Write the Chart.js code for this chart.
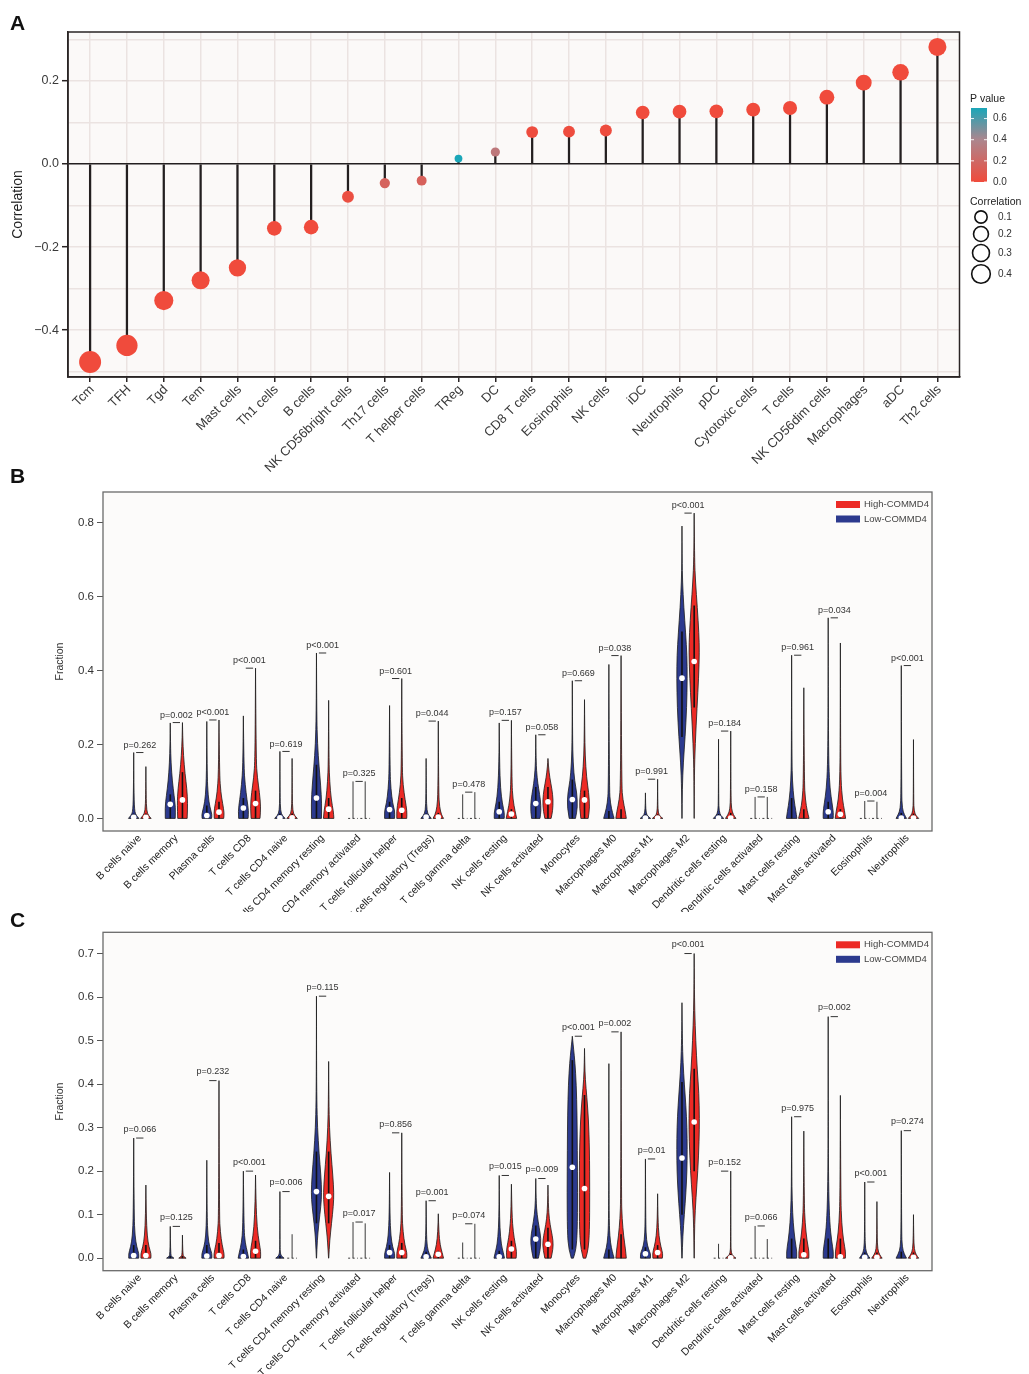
<!DOCTYPE html>
<html>
<head>
<meta charset="utf-8">
<script src="https://cdn.jsdelivr.net/npm/chart.js@4.4.1/dist/chart.umd.min.js"></script>
<style>
  body { margin: 0; background: #fff; width: 1029px; height: 1374px; position: relative; overflow: hidden; }
  canvas { position: absolute; left: 0; }
  .tag { position: absolute; left: 10px; font: bold 21px "Liberation Sans", Arial, sans-serif; line-height: 21px; color: #111; z-index: 2; }
</style>
</head>
<body>
<div class="tag" style="top:12px">A</div>
<div class="tag" style="top:465px">B</div>
<div class="tag" style="top:909px">C</div>
<canvas id="chartA" width="1029" height="472" style="top:0"></canvas>
<canvas id="chartB" width="1029" height="442" style="top:470px"></canvas>
<canvas id="chartC" width="1029" height="462" style="top:912px"></canvas>
<script>
// ---- Panel A: lollipop of correlations ----
const cellsA = ['Tcm', 'TFH', 'Tgd', 'Tem', 'Mast cells', 'Th1 cells', 'B cells', 'NK CD56bright cells',
  'Th17 cells', 'T helper cells', 'TReg', 'DC', 'CD8 T cells', 'Eosinophils', 'NK cells', 'iDC',
  'Neutrophils', 'pDC', 'Cytotoxic cells', 'T cells', 'NK CD56dim cells', 'Macrophages', 'aDC', 'Th2 cells'];
const corrA = [-0.477, -0.437, -0.329, -0.280, -0.250, -0.155, -0.152, -0.079, -0.046, -0.040, 0.013, 0.029,
  0.077, 0.078, 0.081, 0.124, 0.126, 0.127, 0.131, 0.135, 0.161, 0.196, 0.221, 0.282];
const pvalA = [0, 0, 0, 0, 0, 0.001, 0.001, 0.03, 0.16, 0.15, 0.7, 0.3,
  0.01, 0.01, 0.01, 0, 0, 0, 0, 0, 0, 0, 0, 0];
const corrTicks = [-0.5, -0.4, -0.3, -0.2, -0.1, 0, 0.1, 0.2, 0.3];
const corrLabelTicks = [-0.4, -0.2, 0, 0.2];
const pLegendTicks = [0, 0.2, 0.4, 0.6];
const sizeLegendTicks = [0.1, 0.2, 0.3, 0.4];

// ---- Panels B and C: violins, low (blue) vs high (red) COMMD4 ----
const cellsBC = ['B cells naive', 'B cells memory', 'Plasma cells', 'T cells CD8', 'T cells CD4 naive',
  'T cells CD4 memory resting', 'T cells CD4 memory activated', 'T cells follicular helper',
  'T cells regulatory (Tregs)', 'T cells gamma delta', 'NK cells resting', 'NK cells activated', 'Monocytes',
  'Macrophages M0', 'Macrophages M1', 'Macrophages M2', 'Dendritic cells resting', 'Dendritic cells activated',
  'Mast cells resting', 'Mast cells activated', 'Eosinophils', 'Neutrophils'];

const fracTicksB = [0, 0.2, 0.4, 0.6, 0.8];
const pLabelB = ['p=0.262', 'p=0.002', 'p<0.001', 'p<0.001', 'p=0.619', 'p<0.001', 'p=0.325', 'p=0.601', 'p=0.044',
  'p=0.478', 'p=0.157', 'p=0.058', 'p=0.669', 'p=0.038', 'p=0.991', 'p<0.001', 'p=0.184', 'p=0.158', 'p=0.961',
  'p=0.034', 'p=0.004', 'p<0.001'];
const lowMaxB = [0.178, 0.258, 0.262, 0.277, 0.181, 0.447, 0.100, 0.305, 0.162, 0.065, 0.258, 0.226,
  0.372, 0.416, 0.069, 0.790, 0.214, 0.058, 0.441, 0.542, 0.047, 0.413];
const highMaxB = [0.140, 0.259, 0.266, 0.406, 0.162, 0.319, 0.100, 0.378, 0.263, 0.071, 0.265, 0.162,
  0.321, 0.440, 0.106, 0.825, 0.236, 0.058, 0.353, 0.474, 0.045, 0.213];
const lowMedB = [0.003, 0.038, 0.008, 0.028, 0.002, 0.055, null, 0.024, 0.004, null, 0.018, 0.040,
  0.051, null, 0.001, 0.379, 0.001, null, null, 0.018, null, 0.001];
const highMedB = [0.003, 0.050, 0.017, 0.040, 0.002, 0.025, null, 0.022, 0.004, null, 0.012, 0.045,
  0.050, null, 0.001, 0.424, 0.001, null, null, 0.011, null, 0.001];
// shape knots: [value, relative half-width]; the outline closes to width 0 at the max
const lowShapeB = [
  [[0, 1], [0.008, 0.5], [0.02, 0.15], [0.08, 0.04]],
  [[0, 0.95], [0.03, 1], [0.06, 0.75], [0.1, 0.4], [0.15, 0.15], [0.2, 0.05]],
  [[0, 0.9], [0.01, 1], [0.03, 0.6], [0.06, 0.25], [0.12, 0.06]],
  [[0, 0.9], [0.02, 1], [0.05, 0.7], [0.09, 0.35], [0.14, 0.1]],
  [[0, 1], [0.008, 0.45], [0.02, 0.12], [0.06, 0.03]],
  [[0, 0.95], [0.04, 1], [0.09, 0.8], [0.14, 0.5], [0.2, 0.2], [0.28, 0.05]],
  [],
  [[0, 0.95], [0.02, 1], [0.04, 0.6], [0.08, 0.25], [0.13, 0.08]],
  [[0, 1], [0.008, 0.5], [0.02, 0.15], [0.06, 0.04]],
  [],
  [[0, 0.95], [0.015, 1], [0.04, 0.6], [0.08, 0.25], [0.15, 0.06]],
  [[0, 0.8], [0.02, 1], [0.05, 0.9], [0.08, 0.55], [0.11, 0.25], [0.15, 0.06]],
  [[0, 0.6], [0.03, 1], [0.07, 0.85], [0.1, 0.45], [0.15, 0.15], [0.22, 0.04]],
  [[0, 1], [0.015, 0.7], [0.04, 0.3], [0.08, 0.08]],
  [[0, 1], [0.006, 0.45], [0.015, 0.12], [0.04, 0.03]],
  [[0, 0.02], [0.08, 0.06], [0.15, 0.25], [0.22, 0.6], [0.3, 0.9], [0.38, 1], [0.44, 0.95], [0.5, 0.7], [0.57, 0.35], [0.64, 0.1], [0.7, 0.03]],
  [[0, 1], [0.007, 0.45], [0.02, 0.1], [0.05, 0.03]],
  [],
  [[0, 1], [0.02, 0.8], [0.05, 0.45], [0.1, 0.15], [0.16, 0.05]],
  [[0, 0.95], [0.015, 1], [0.04, 0.75], [0.08, 0.35], [0.14, 0.12], [0.25, 0.04]],
  [],
  [[0, 1], [0.01, 0.6], [0.025, 0.2], [0.07, 0.05]]
];
const highShapeB = [
  [[0, 1], [0.008, 0.5], [0.02, 0.15], [0.06, 0.04]],
  [[0, 0.9], [0.04, 1], [0.08, 0.85], [0.12, 0.5], [0.17, 0.2], [0.22, 0.05]],
  [[0, 0.9], [0.015, 1], [0.04, 0.7], [0.07, 0.35], [0.12, 0.1]],
  [[0, 0.85], [0.03, 1], [0.07, 0.75], [0.11, 0.35], [0.16, 0.1]],
  [[0, 1], [0.008, 0.45], [0.02, 0.12], [0.06, 0.03]],
  [[0, 1], [0.02, 0.9], [0.05, 0.5], [0.1, 0.2], [0.15, 0.06]],
  [],
  [[0, 0.95], [0.02, 1], [0.05, 0.65], [0.09, 0.25], [0.14, 0.08]],
  [[0, 1], [0.01, 0.6], [0.03, 0.25], [0.07, 0.06]],
  [],
  [[0, 1], [0.02, 0.7], [0.05, 0.3], [0.1, 0.08]],
  [[0, 0.6], [0.02, 0.9], [0.05, 1], [0.08, 0.75], [0.11, 0.35], [0.14, 0.1]],
  [[0, 0.7], [0.03, 1], [0.07, 0.8], [0.11, 0.4], [0.17, 0.12], [0.24, 0.04]],
  [[0, 1], [0.02, 0.8], [0.05, 0.35], [0.09, 0.1]],
  [[0, 1], [0.006, 0.45], [0.015, 0.12], [0.04, 0.03]],
  [[0, 0.01], [0.12, 0.04], [0.2, 0.2], [0.3, 0.55], [0.38, 0.85], [0.45, 1], [0.5, 0.9], [0.57, 0.6], [0.64, 0.25], [0.7, 0.07]],
  [[0, 1], [0.01, 0.5], [0.025, 0.15], [0.06, 0.04]],
  [],
  [[0, 1], [0.02, 0.65], [0.05, 0.3], [0.1, 0.08]],
  [[0, 1], [0.02, 0.8], [0.05, 0.4], [0.1, 0.12], [0.2, 0.04]],
  [],
  [[0, 1], [0.008, 0.45], [0.02, 0.12], [0.05, 0.03]]
];

const fracTicksC = [0, 0.1, 0.2, 0.3, 0.4, 0.5, 0.6, 0.7];
const pLabelC = ['p=0.066', 'p=0.125', 'p=0.232', 'p<0.001', 'p=0.006', 'p=0.115', 'p=0.017', 'p=0.856', 'p=0.001',
  'p=0.074', 'p=0.015', 'p=0.009', 'p<0.001', 'p=0.002', 'p=0.01', 'p<0.001', 'p=0.152', 'p=0.066', 'p=0.975',
  'p=0.002', 'p<0.001', 'p=0.274'];
const lowMaxC = [0.276, 0.073, 0.225, 0.200, 0.153, 0.602, 0.083, 0.197, 0.132, 0.036, 0.190, 0.183,
  0.510, 0.447, 0.228, 0.587, 0.033, 0.074, 0.325, 0.555, 0.175, 0.293];
const highMaxC = [0.168, 0.053, 0.408, 0.191, 0.055, 0.452, 0.080, 0.288, 0.102, 0.079, 0.170, 0.168,
  0.482, 0.520, 0.148, 0.700, 0.200, 0.044, 0.292, 0.374, 0.130, 0.100];
const lowMedC = [0.006, null, 0.005, 0.004, null, 0.153, null, 0.013, 0.003, null, 0.003, 0.044,
  0.209, null, 0.010, 0.230, null, null, null, null, 0.002, null];
const highMedC = [0.006, null, 0.006, 0.016, null, 0.142, null, 0.013, 0.009, null, 0.021, 0.032,
  0.160, null, 0.013, 0.313, 0.001, null, 0.008, 0.003, 0.002, 0.002];
const lowShapeC = [
  [[0, 0.95], [0.01, 1], [0.025, 0.6], [0.05, 0.25], [0.1, 0.07]],
  [[0, 0.7], [0.003, 0.3], [0.008, 0.05]],
  [[0, 0.95], [0.01, 1], [0.025, 0.55], [0.05, 0.2], [0.1, 0.05]],
  [[0, 1], [0.015, 0.75], [0.035, 0.35], [0.07, 0.1]],
  [[0, 0.8], [0.004, 0.35], [0.01, 0.08], [0.03, 0.02]],
  [[0, 0.02], [0.04, 0.15], [0.08, 0.45], [0.12, 0.85], [0.15, 1], [0.19, 0.85], [0.24, 0.5], [0.3, 0.2], [0.36, 0.07], [0.45, 0.02]],
  [],
  [[0, 0.95], [0.01, 1], [0.025, 0.6], [0.05, 0.25], [0.1, 0.06]],
  [[0, 1], [0.01, 0.6], [0.025, 0.2], [0.06, 0.05]],
  [],
  [[0, 1], [0.012, 0.8], [0.03, 0.4], [0.07, 0.12], [0.12, 0.04]],
  [[0, 0.5], [0.02, 0.85], [0.045, 1], [0.07, 0.65], [0.1, 0.25], [0.13, 0.07]],
  [[0, 0.2], [0.02, 0.7], [0.06, 0.95], [0.15, 1], [0.25, 0.95], [0.33, 0.9], [0.4, 0.75], [0.45, 0.5], [0.48, 0.25], [0.5, 0.08]],
  [[0, 1], [0.015, 0.65], [0.035, 0.3], [0.07, 0.08], [0.15, 0.03]],
  [[0, 0.95], [0.01, 1], [0.02, 0.6], [0.04, 0.2], [0.08, 0.05]],
  [[0, 0.03], [0.05, 0.15], [0.1, 0.45], [0.15, 0.75], [0.2, 0.95], [0.25, 1], [0.3, 0.95], [0.35, 0.75], [0.4, 0.45], [0.45, 0.2], [0.5, 0.07]],
  [],
  [],
  [[0, 0.95], [0.015, 1], [0.04, 0.65], [0.08, 0.3], [0.13, 0.1], [0.2, 0.03]],
  [[0, 0.95], [0.015, 1], [0.04, 0.65], [0.08, 0.3], [0.15, 0.1], [0.25, 0.03]],
  [[0, 1], [0.008, 0.5], [0.02, 0.15], [0.05, 0.04]],
  [[0, 1], [0.01, 0.55], [0.025, 0.18], [0.06, 0.05]]
];
const highShapeC = [
  [[0, 0.95], [0.01, 1], [0.025, 0.6], [0.05, 0.25], [0.1, 0.07]],
  [[0, 0.7], [0.003, 0.3], [0.008, 0.05]],
  [[0, 0.95], [0.01, 1], [0.03, 0.6], [0.06, 0.25], [0.1, 0.07]],
  [[0, 0.95], [0.015, 1], [0.035, 0.7], [0.07, 0.3], [0.13, 0.08]],
  [],
  [[0, 0.02], [0.04, 0.2], [0.08, 0.55], [0.12, 0.9], [0.15, 1], [0.19, 0.8], [0.24, 0.45], [0.3, 0.15], [0.36, 0.05]],
  [],
  [[0, 0.95], [0.012, 1], [0.03, 0.6], [0.06, 0.25], [0.1, 0.06]],
  [[0, 1], [0.012, 0.75], [0.03, 0.35], [0.06, 0.1]],
  [],
  [[0, 0.9], [0.015, 1], [0.035, 0.7], [0.06, 0.35], [0.1, 0.1]],
  [[0, 0.6], [0.02, 0.95], [0.04, 1], [0.065, 0.6], [0.09, 0.25], [0.12, 0.08]],
  [[0, 0.25], [0.02, 0.7], [0.06, 0.95], [0.15, 1], [0.25, 0.95], [0.32, 0.75], [0.37, 0.45], [0.41, 0.15], [0.45, 0.04]],
  [[0, 1], [0.02, 0.85], [0.05, 0.5], [0.09, 0.2], [0.14, 0.06]],
  [[0, 0.9], [0.01, 1], [0.025, 0.65], [0.05, 0.25], [0.09, 0.06]],
  [[0, 0.02], [0.08, 0.08], [0.14, 0.35], [0.2, 0.7], [0.27, 0.95], [0.32, 1], [0.38, 0.9], [0.43, 0.6], [0.5, 0.3], [0.57, 0.1], [0.63, 0.04]],
  [[0, 1], [0.005, 0.45], [0.012, 0.1], [0.03, 0.03]],
  [],
  [[0, 0.95], [0.015, 1], [0.04, 0.6], [0.08, 0.25], [0.13, 0.07]],
  [[0, 0.95], [0.015, 1], [0.04, 0.6], [0.08, 0.25], [0.14, 0.07]],
  [[0, 1], [0.008, 0.5], [0.02, 0.15], [0.05, 0.04]],
  [[0, 1], [0.008, 0.5], [0.02, 0.15], [0.05, 0.04]]
];

Chart.defaults.font.family = '"Liberation Sans", Arial, sans-serif';

const LOW_COL = '#2c3a8e';
const HIGH_COL = '#ec2a25';

// point size from |correlation| (area-like scale)
const sizeOf = v => 2.5 + 12.3 * Math.sqrt(Math.abs(v));

function pColor(p) {
    const stops = [[0, [240, 75, 60]], [0.4, [172, 134, 142]], [0.7, [26, 166, 184]]];
    for (let k = 1; k < stops.length; k++) {
        if (p <= stops[k][0]) {
            const [p0, c0] = stops[k - 1], [p1, c1] = stops[k];
            const t = (p - p0) / (p1 - p0);
            const c = c0.map((v, j) => Math.round(v + (c1[j] - v) * t));
            return `rgb(${c[0]},${c[1]},${c[2]})`;
        }
    }
    return 'rgb(26,166,184)';
}

const fmtSigned = v => (v < 0 ? '\u2212' : '') + Math.abs(v).toFixed(1);

// Panel A extras: background, box and the two legends
const panelA = {
    id: 'panelA',
    beforeDraw(chart) {
        const { ctx, chartArea: a } = chart;
        ctx.save();
        ctx.fillStyle = '#fbf9f8';
        ctx.fillRect(a.left, a.top, a.right - a.left, a.bottom - a.top);
        ctx.restore();
    },
    afterDraw(chart) {
        const { ctx, chartArea: a } = chart;
        ctx.save();
        ctx.strokeStyle = '#2a2424';
        ctx.lineWidth = 1.5;
        ctx.strokeRect(a.left, a.top, a.right - a.left, a.bottom - a.top);

        // P value colour bar
        const barL = 971, barW = 16, barTop = 108, barBot = 182, pMax = 0.7;
        ctx.fillStyle = '#222';
        ctx.font = '10.5px "Liberation Sans", Arial';
        ctx.textBaseline = 'middle';
        ctx.textAlign = 'left';
        ctx.fillText('P value', 970, 99);
        const g = ctx.createLinearGradient(0, barBot, 0, barTop);
        g.addColorStop(0, pColor(0));
        g.addColorStop(0.4 / pMax, pColor(0.4));
        g.addColorStop(1, pColor(0.7));
        ctx.fillStyle = g;
        ctx.fillRect(barL, barTop, barW, barBot - barTop);
        ctx.font = '10px "Liberation Sans", Arial';
        pLegendTicks.forEach(p => {
            const y = barBot - p / pMax * (barBot - barTop);
            ctx.strokeStyle = 'rgba(255,255,255,0.9)';
            ctx.lineWidth = 1;
            ctx.beginPath();
            ctx.moveTo(barL, y); ctx.lineTo(barL + 3, y);
            ctx.moveTo(barL + barW - 3, y); ctx.lineTo(barL + barW, y);
            ctx.stroke();
            ctx.fillStyle = '#333';
            ctx.fillText(p.toFixed(1), 993, y);
        });

        // Correlation size legend
        ctx.fillStyle = '#222';
        ctx.font = '10.5px "Liberation Sans", Arial';
        ctx.fillText('Correlation', 970, 202);
        const ys = [217, 234, 253, 274];
        ctx.font = '10px "Liberation Sans", Arial';
        sizeLegendTicks.forEach((v, k) => {
            ctx.beginPath();
            ctx.arc(981, ys[k], 3 + 10 * Math.sqrt(v), 0, Math.PI * 2);
            ctx.strokeStyle = '#111';
            ctx.lineWidth = 1.6;
            ctx.stroke();
            ctx.fillStyle = '#333';
            ctx.fillText(v.toFixed(1), 998, ys[k]);
        });
        ctx.restore();
    }
};

new Chart(document.getElementById('chartA'), {
    type: 'scatter',
    data: {
        datasets: [
            {
                type: 'bar',
                data: corrA.map((v, i) => ({ x: i, y: v })),
                backgroundColor: '#231f20',
                barThickness: 1.6,
                order: 2
            },
            {
                type: 'scatter',
                data: corrA.map((v, i) => ({ x: i, y: v })),
                pointRadius: corrA.map(sizeOf),
                pointBackgroundColor: pvalA.map(pColor),
                pointBorderWidth: 0,
                clip: false,
                order: 1
            }
        ]
    },
    options: {
        responsive: false,
        animation: false,
        events: [],
        layout: { padding: { left: 8, top: 32, right: 69.5, bottom: 0 } },
        plugins: { legend: { display: false }, tooltip: { enabled: false } },
        scales: {
            x: {
                type: 'linear', min: -0.6, max: 23.6, offset: false,
                afterBuildTicks: s => { s.ticks = cellsA.map((c, i) => ({ value: i })); },
                afterFit: s => { s.height = 95; },
                ticks: {
                    autoSkip: false, maxRotation: 45, minRotation: 45, padding: 0, labelOffset: 2,
                    callback: v => cellsA[v], color: '#3a3a3a', font: { size: 13 }
                },
                grid: { offset: false, color: '#ebe3e1', lineWidth: 1.5, tickLength: 5, tickColor: '#2a2424', tickWidth: 1.5 },
                border: { display: true, color: '#2a2424', width: 1.5 }
            },
            y: {
                min: -0.513, max: 0.318,
                afterBuildTicks: s => { s.ticks = corrTicks.map(v => ({ value: v })); },
                afterFit: s => { s.width = 60; },
                ticks: {
                    padding: 3, color: '#3a3a3a', font: { size: 12.5 },
                    callback: v => corrLabelTicks.includes(v) ? fmtSigned(v) : ''
                },
                grid: {
                    color: c => (c.tick && c.tick.value === 0) ? '#231f20' : '#ebe3e1',
                    lineWidth: c => (c.tick && c.tick.value === 0) ? 1.5 : 1.4,
                    tickLength: 6,
                    tickColor: c => (c.tick && corrLabelTicks.includes(c.tick.value)) ? '#2a2424' : 'rgba(0,0,0,0)',
                    tickWidth: 1.5
                },
                border: { color: '#2a2424', width: 1.5 },
                title: { display: true, text: 'Correlation', color: '#222', font: { size: 14 }, padding: { top: 2, bottom: 0 } }
            }
        }
    },
    plugins: [panelA]
});

// ---- violin panels ----
const HALF_W = 0.43;

function smoothSide(ctx, pts) {
    ctx.lineTo(pts[0][0], pts[0][1]);
    for (let k = 1; k < pts.length - 1; k++) {
        const mx = (pts[k][0] + pts[k + 1][0]) / 2, my = (pts[k][1] + pts[k + 1][1]) / 2;
        ctx.quadraticCurveTo(pts[k][0], pts[k][1], mx, my);
    }
    const last = pts[pts.length - 1];
    ctx.lineTo(last[0], last[1]);
}

function drawViolin(ctx, xs, ys, xc, shape, max, color) {
    const px = xs.getPixelForValue(xc);
    if (!shape.length) {
        // near-constant group: bare line and dotted base
        ctx.strokeStyle = '#3a3a3a';
        ctx.lineWidth = 1;
        ctx.beginPath();
        ctx.moveTo(px, ys.getPixelForValue(0));
        ctx.lineTo(px, ys.getPixelForValue(max));
        ctx.stroke();
        ctx.setLineDash([2, 2.5]);
        ctx.beginPath();
        ctx.moveTo(xs.getPixelForValue(xc - 0.4), ys.getPixelForValue(0));
        ctx.lineTo(xs.getPixelForValue(xc + 0.4), ys.getPixelForValue(0));
        ctx.stroke();
        ctx.setLineDash([]);
        return;
    }
    const knots = shape.concat([[max, 0]]);
    const left = knots.map(([v, w]) => [xs.getPixelForValue(xc - w * HALF_W), ys.getPixelForValue(v)]);
    const right = knots.slice().reverse().map(([v, w]) => [xs.getPixelForValue(xc + w * HALF_W), ys.getPixelForValue(v)]);
    ctx.beginPath();
    ctx.moveTo(left[0][0], left[0][1]);
    smoothSide(ctx, left);
    smoothSide(ctx, right);
    ctx.closePath();
    ctx.fillStyle = color;
    ctx.fill();
    ctx.strokeStyle = '#1c1c1c';
    ctx.lineWidth = 0.8;
    ctx.stroke();

    // dark inner bar through the bulk of the violin
    const wide = shape.filter(k => k[1] >= 0.45);
    const lo = Math.min(...wide.map(k => k[0])), hi = Math.max(...wide.map(k => k[0]));
    ctx.strokeStyle = '#111';
    ctx.lineWidth = 1.6;
    ctx.beginPath();
    ctx.moveTo(px, ys.getPixelForValue(lo));
    ctx.lineTo(px, ys.getPixelForValue(hi + 0.005));
    ctx.stroke();
}

function violinChart(id, d) {
    const meds = [];
    d.lowMed.forEach((m, i) => { if (m !== null) meds.push({ x: 3 * i, y: m }); });
    d.highMed.forEach((m, i) => { if (m !== null) meds.push({ x: 3 * i + 1, y: m }); });

    const violins = {
        id: 'violins',
        beforeDraw(chart) {
            const { ctx, chartArea: a } = chart;
            ctx.save();
            ctx.fillStyle = '#fcfbfa';
            ctx.fillRect(a.left, a.top, a.right - a.left, a.bottom - a.top);
            ctx.restore();
        },
        beforeDatasetsDraw(chart) {
            const { ctx } = chart;
            const xs = chart.scales.x, ys = chart.scales.y;
            ctx.save();
            cellsBC.forEach((c, i) => {
                drawViolin(ctx, xs, ys, 3 * i, d.lowShape[i], d.lowMax[i], LOW_COL);
                drawViolin(ctx, xs, ys, 3 * i + 1, d.highShape[i], d.highMax[i], HIGH_COL);
                const mx = Math.max(d.lowMax[i], d.highMax[i]);
                ctx.strokeStyle = '#333';
                ctx.lineWidth = 1;
                ctx.beginPath();
                ctx.moveTo(xs.getPixelForValue(3 * i + 0.2), ys.getPixelForValue(mx));
                ctx.lineTo(xs.getPixelForValue(3 * i + 0.8), ys.getPixelForValue(mx));
                ctx.stroke();
                ctx.fillStyle = '#333';
                ctx.font = '9px "Liberation Sans", Arial';
                ctx.textAlign = 'center';
                ctx.textBaseline = 'middle';
                ctx.fillText(d.pLabel[i], xs.getPixelForValue(3 * i + 0.5), ys.getPixelForValue(mx + 0.02));
            });
            ctx.restore();
        },
        afterDraw(chart) {
            const { ctx, chartArea: a } = chart;
            ctx.save();
            ctx.strokeStyle = '#6a6a6a';
            ctx.lineWidth = 1.3;
            ctx.strokeRect(a.left, a.top, a.right - a.left, a.bottom - a.top);
            // legend, top right
            const rows = [['High-COMMD4', HIGH_COL], ['Low-COMMD4', LOW_COL]];
            ctx.font = '9.5px "Liberation Sans", Arial';
            ctx.textAlign = 'left';
            ctx.textBaseline = 'middle';
            rows.forEach(([t, col], k) => {
                const cy = a.top + 12.5 + k * 14.5;
                ctx.fillStyle = col;
                ctx.fillRect(a.right - 96, cy - 3.5, 24, 7);
                ctx.fillStyle = '#444';
                ctx.fillText(t, a.right - 68, cy);
            });
            ctx.restore();
        }
    };

    new Chart(document.getElementById(id), {
        type: 'scatter',
        data: {
            datasets: [{
                data: meds,
                pointRadius: 2.8,
                pointBackgroundColor: '#ffffff',
                pointBorderWidth: 0,
                clip: false
            }]
        },
        options: {
            responsive: false,
            animation: false,
            events: [],
            layout: { padding: { left: 50, top: d.padTop, right: 97, bottom: 0 } },
            plugins: { legend: { display: false }, tooltip: { enabled: false } },
            scales: {
                x: {
                    type: 'linear', min: -2.52, max: 65.52,
                    afterBuildTicks: s => { s.ticks = cellsBC.map((c, i) => ({ value: 3 * i + 1 })); },
                    afterFit: s => { s.height = d.xHeight; },
                    ticks: {
                        autoSkip: false, maxRotation: 45, minRotation: 45, padding: -7, labelOffset: -6,
                        color: '#222', font: { size: 10.5 },
                        callback: v => cellsBC[(v - 1) / 3]
                    },
                    grid: { display: false },
                    border: { display: false }
                },
                y: {
                    min: d.yMin, max: d.yMax,
                    afterBuildTicks: s => { s.ticks = d.yTicks.map(v => ({ value: v })); },
                    afterFit: s => { s.width = 53; },
                    ticks: { padding: 3, color: '#333', font: { size: 11.5 }, callback: v => v.toFixed(1) },
                    grid: { drawOnChartArea: false, tickLength: 6, tickColor: '#555', tickWidth: 1 },
                    border: { display: false },
                    title: { display: true, text: 'Fraction', color: '#333', font: { size: 10.5 }, padding: { top: 4, bottom: 0 } }
                }
            }
        },
        plugins: [violins]
    });
}

violinChart('chartB', {
    lowMax: lowMaxB, highMax: highMaxB, lowMed: lowMedB, highMed: highMedB,
    lowShape: lowShapeB, highShape: highShapeB, pLabel: pLabelB,
    yTicks: fracTicksB, yMin: -0.034, yMax: 0.882, padTop: 22, xHeight: 81
});

violinChart('chartC', {
    lowMax: lowMaxC, highMax: highMaxC, lowMed: lowMedC, highMed: highMedC,
    lowShape: lowShapeC, highShape: highShapeC, pLabel: pLabelC,
    yTicks: fracTicksC, yMin: -0.0288, yMax: 0.7488, padTop: 20.3, xHeight: 103.3
});
</script>
</body>
</html>
